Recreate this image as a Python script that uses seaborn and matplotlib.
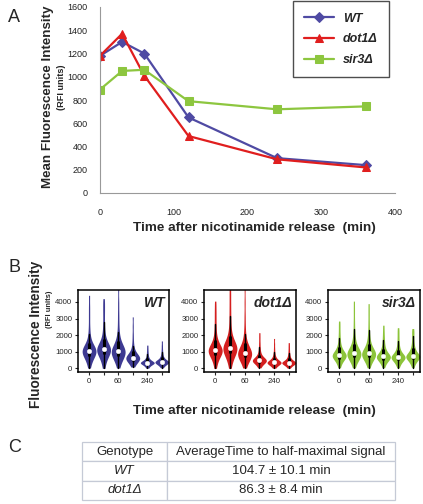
import numpy as np
import pandas as pd
import seaborn as sns
import matplotlib.pyplot as plt

# panel A: mean fluorescence over time
times = [0, 30, 60, 120, 240, 360]
wt_mean = [1180, 1300, 1200, 650, 300, 240]
dot1_mean = [1180, 1370, 1010, 490, 290, 220]
sir3_mean = [890, 1050, 1060, 790, 720, 745]

genotypes = ['WT', 'dot1Δ', 'sir3Δ']
colors = {'WT': '#4F4AA3', 'dot1Δ': '#E01E1E', 'sir3Δ': '#8DC63F'}
violin_colors = {'WT': '#3E3A92', 'dot1Δ': '#D41F1F', 'sir3Δ': '#8CC43A'}
markers = {'WT': 'D', 'dot1Δ': '^', 'sir3Δ': 's'}

# panel B: single-cell values
# (13 below the median, the median, 13 above incl. the long thin tail)
wt_cells = {
    0: [20, 250, 420, 550, 650, 730, 800, 860, 910, 960, 1000, 1030, 1050, 1060,
        1100, 1150, 1210, 1270, 1340, 1420, 1550, 1750, 2050, 2500, 3100, 3700, 4400],
    30: [0, 280, 460, 600, 710, 800, 880, 940, 1000, 1050, 1100, 1130, 1150, 1160,
         1210, 1270, 1340, 1420, 1510, 1620, 1780, 2000, 2350, 2800, 3300, 3750, 4200],
    60: [20, 240, 400, 530, 630, 710, 780, 840, 890, 940, 980, 1010, 1025, 1030,
         1080, 1140, 1210, 1290, 1380, 1490, 1640, 1850, 2200, 2700, 3300, 4000, 4900],
    120: [80, 200, 290, 360, 420, 470, 510, 545, 570, 595, 612, 625, 635, 640,
          670, 710, 750, 800, 860, 930, 1020, 1150, 1350, 1650, 2050, 2550, 3100],
    240: [10, 80, 140, 190, 230, 260, 285, 300, 315, 325, 335, 342, 347, 350,
          365, 385, 410, 440, 475, 515, 570, 640, 740, 870, 1020, 1200, 1400],
    360: [30, 110, 170, 220, 260, 290, 315, 335, 350, 362, 372, 380, 386, 390,
          405, 425, 450, 480, 520, 565, 625, 700, 810, 960, 1150, 1380, 1650],
}
dot1_cells = {
    0: [0, 260, 440, 580, 690, 780, 850, 910, 960, 1010, 1050, 1075, 1090, 1100,
        1150, 1210, 1280, 1360, 1450, 1560, 1710, 1920, 2250, 2650, 3100, 3550, 4050],
    30: [0, 300, 500, 650, 770, 870, 950, 1020, 1080, 1130, 1180, 1210, 1230, 1240,
         1300, 1370, 1450, 1540, 1650, 1790, 1970, 2250, 2650, 3150, 3700, 4300, 4900],
    60: [20, 220, 370, 490, 580, 650, 710, 760, 800, 840, 875, 900, 913, 920,
         970, 1030, 1100, 1180, 1270, 1380, 1520, 1720, 2050, 2550, 3200, 4000, 4900],
    120: [30, 130, 210, 270, 320, 360, 395, 420, 440, 458, 472, 482, 487, 490,
          510, 540, 580, 620, 670, 730, 810, 920, 1080, 1300, 1550, 1850, 2150],
    240: [10, 90, 150, 200, 240, 270, 295, 312, 325, 336, 345, 352, 357, 360,
          380, 400, 430, 460, 500, 550, 610, 690, 800, 970, 1200, 1480, 1800],
    360: [10, 90, 145, 190, 230, 260, 285, 302, 316, 327, 336, 343, 347, 350,
          370, 390, 420, 450, 490, 540, 600, 680, 790, 940, 1120, 1330, 1550],
}
sir3_cells = {
    0: [40, 230, 350, 440, 510, 570, 620, 665, 705, 740, 765, 785, 795, 800,
        840, 890, 950, 1010, 1080, 1160, 1260, 1400, 1600, 1850, 2150, 2500, 2850],
    30: [30, 260, 400, 500, 580, 645, 700, 750, 795, 835, 865, 885, 895, 900,
         950, 1010, 1080, 1150, 1240, 1350, 1490, 1680, 1950, 2350, 2850, 3450, 4050],
    60: [30, 250, 390, 490, 570, 635, 690, 740, 785, 825, 860, 882, 895, 900,
         945, 1000, 1070, 1140, 1230, 1340, 1480, 1660, 1930, 2300, 2800, 3350, 3900],
    120: [40, 210, 320, 400, 460, 515, 560, 600, 635, 665, 690, 708, 716, 720,
          760, 810, 860, 920, 990, 1070, 1170, 1300, 1480, 1700, 1950, 2250, 2600],
    240: [30, 200, 300, 380, 440, 495, 540, 580, 615, 645, 665, 680, 687, 690,
          730, 770, 820, 880, 940, 1020, 1120, 1250, 1420, 1640, 1900, 2170, 2450],
    360: [40, 220, 330, 410, 475, 530, 575, 615, 650, 685, 710, 728, 736, 740,
          780, 830, 880, 940, 1010, 1090, 1190, 1320, 1490, 1700, 1950, 2180, 2400],
}

# panel C table
table_header = ['Genotype', 'AverageTime to half-maximal signal']
table_genotypes = ['WT', 'dot1Δ']
table_values = ['104.7 ± 10.1 min', '86.3 ± 8.4 min']

sns.set_style('white')
plt.rcParams['font.family'] = ['Liberation Sans', 'DejaVu Sans']

W, H = 423, 504
fig = plt.figure(figsize=(W / 100, H / 100), dpi=100)
XLAB = 'Time after nicotinamide release  (min)'


def box(x0, y0, x1, y1):
    """pixel box (top-left origin) -> figure fraction rect"""
    return [x0 / W, 1 - y1 / H, (x1 - x0) / W, (y1 - y0) / H]


def ftext(x, y, s, **kw):
    """text at pixel position (top-left origin)"""
    return fig.text(x / W, 1 - y / H, s, **kw)


# ---------------- A ----------------
axA = fig.add_axes(box(100, 7, 395, 193))
dfA = pd.DataFrame({
    'time': times * 3,
    'mfi': wt_mean + dot1_mean + sir3_mean,
    'genotype': ['WT'] * 6 + ['dot1Δ'] * 6 + ['sir3Δ'] * 6,
})
for g in genotypes:
    sub = dfA[dfA['genotype'] == g]
    sns.lineplot(data=sub, x='time', y='mfi', ax=axA, color=colors[g], lw=1.6,
                 marker=markers[g], markersize=6 if g != 'WT' else 5,
                 markeredgecolor=colors[g], label=g)
axA.set_xlim(0, 400)
axA.set_ylim(0, 1600)
axA.set_xticks([0, 100, 200, 300, 400])
axA.set_yticks(range(0, 1601, 200))
axA.tick_params(labelsize=6.5, length=3, color='#888888', labelcolor='#222222', pad=6)
axA.tick_params(axis='x', pad=8)
for s in ['top', 'right']:
    axA.spines[s].set_visible(False)
for s in ['left', 'bottom']:
    axA.spines[s].set_color('#999999')
    axA.spines[s].set_linewidth(0.8)
axA.set_xlabel('')
axA.set_ylabel('')
leg = axA.legend(loc='upper left', bbox_to_anchor=(0.654, 1.03), borderaxespad=0,
                 frameon=True, fancybox=False, handlelength=2.4, handletextpad=0.7,
                 labelspacing=0.7, borderpad=0.9,
                 prop=dict(weight='bold', style='italic', size=9))
leg.get_frame().set_edgecolor('#222222')
leg.get_frame().set_linewidth(1.0)

ftext(48, 97, 'Mean Fluorescence Intensity', rotation=90,
      ha='center', va='center', fontsize=9.6, fontweight='bold')
ftext(61, 87, '(RFI units)', rotation=90,
      ha='center', va='center', fontsize=6.6, fontweight='bold')
ftext(254, 228, XLAB, ha='center', va='center', fontsize=9.7, fontweight='bold')
ftext(8, 18, 'A', fontsize=13, ha='left', va='center')

# ---------------- B ----------------
rows = []
for g, cells in zip(genotypes, [wt_cells, dot1_cells, sir3_cells]):
    for t in times:
        for v in cells[t]:
            rows.append((g, str(t), v))
dfB = pd.DataFrame(rows, columns=['genotype', 'time', 'value'])
order = [str(t) for t in times]

panel_x = [(78, 169), (204, 296), (328, 420)]
for (x0, x1), g in zip(panel_x, genotypes):
    ax = fig.add_axes(box(x0, 290, x1, 372))
    sns.violinplot(data=dfB[dfB['genotype'] == g], x='time', y='value', order=order,
                   ax=ax, color=violin_colors[g], saturation=1, linewidth=0,
                   cut=0, bw_adjust=0.6, density_norm='width', width=0.95,
                   inner='box',
                   inner_kws=dict(box_width=2.2, whis_width=1.0, color='black',
                                  marker='o', markersize=3))
    ax.set_xlim(-0.76, 5.49)
    ax.set_ylim(-220, 4720)
    ax.set_yticks([0, 1000, 2000, 3000, 4000])
    ax.set_xticks(range(6))
    ax.set_xticklabels(['0', '', '60', '', '240', ''])
    ax.tick_params(labelsize=5.6, length=2.5, width=0.8, pad=1.5, left=True, bottom=True)
    for s in ax.spines.values():
        s.set_color('black')
        s.set_linewidth(1.1)
    ax.set_xlabel('')
    ax.set_ylabel('')
    ax.text(0.96, 0.93, g, transform=ax.transAxes, ha='right', va='top',
            fontsize=10, fontweight='bold', style='italic')

ftext(36, 334, 'Fluorescence Intensity', rotation=90,
      ha='center', va='center', fontsize=9.8, fontweight='bold')
ftext(49, 309, '(RFI units)', rotation=90,
      ha='center', va='center', fontsize=5.4, fontweight='bold')
ftext(254, 411, XLAB, ha='center', va='center', fontsize=9.7, fontweight='bold')
ftext(8, 268, 'B', fontsize=13, ha='left', va='center')

# ---------------- C ----------------
axC = fig.add_axes(box(82, 442, 395, 500))
axC.axis('off')
cells = [table_header] + [[g, v] for g, v in zip(table_genotypes, table_values)]
tab = axC.table(cellText=cells, cellLoc='center', bbox=[0, 0, 1, 1],
                colWidths=[85, 228])
tab.auto_set_font_size(False)
for (r, c), cell in tab.get_celld().items():
    cell.set_edgecolor('#C5CAD6')
    cell.set_linewidth(0.9)
    cell.get_text().set_fontsize(9.5)
    if r > 0 and c == 0:
        cell.get_text().set_fontstyle('italic')
ftext(8, 448, 'C', fontsize=13, ha='left', va='center')

fig.savefig('out.png', dpi=100)
